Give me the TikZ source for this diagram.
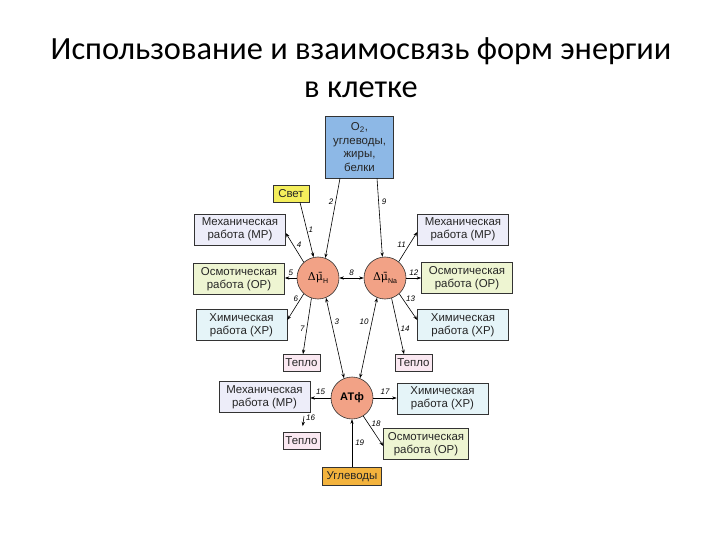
\documentclass[tikz,border=0pt]{standalone}
\usepackage{fontspec}
\setmainfont{Liberation Sans}
\newfontfamily\titlefont{Carlito}
\newfontfamily\greekfont{DejaVu Serif}
\usetikzlibrary{arrows.meta}
\definecolor{mechc}{HTML}{EDEDF9}
\definecolor{osmc}{HTML}{EEF5D2}
\definecolor{chemc}{HTML}{E5F4F8}
\definecolor{heatc}{HTML}{FAE8F1}
\definecolor{circc}{HTML}{F2A286}
\definecolor{oxc}{HTML}{8DB8E6}
\definecolor{lightc}{HTML}{F4EE5C}
\definecolor{carbc}{HTML}{F3B33D}
\definecolor{edgec}{HTML}{333333}
\newcommand{\dmu}[1]{{\greekfont Δμ̄}\raisebox{-3bp}{\fontsize{7}{8}\selectfont #1}}
\tikzset{
  box/.style={draw=edgec, line width=0.6bp, align=center, inner sep=0pt,
    font=\fontsize{11.5}{13.5}\selectfont, text=black!85},
  workbox/.style={box, minimum width=91bp, minimum height=31bp},
  smallbox/.style={box, minimum width=37bp, minimum height=17bp},
  circ/.style={circle, draw=edgec, line width=0.6bp, fill=circc, minimum size=42bp, inner sep=0pt,
    font=\fontsize{11}{12}\selectfont},
  conn/.style={line width=0.6bp, -{Stealth[length=4.5bp,width=3.2bp]}},
  dconn/.style={line width=0.6bp, {Stealth[length=4.5bp,width=3.2bp]}-{Stealth[length=4.5bp,width=3.2bp]}},
  num/.style={font=\fontsize{8}{9}\selectfont\itshape, inner sep=0pt}
}
\begin{document}
\begin{tikzpicture}[x={(1bp,0)}, y={(0,-1bp)}]
\useasboundingbox (0,0) rectangle (720,540);
% title
\node[font=\titlefont\fontsize{32.5}{38}\selectfont, align=center] (title) at (361,68)
  {Использование и взаимосвязь форм энергии\\в клетке};
% top boxes
\node[box, fill=oxc, minimum width=68bp, minimum height=62bp] (ox) at (359.5,147)
  {O\textsubscript{2},\\углеводы,\\жиры,\\белки};
\node[smallbox, fill=lightc, minimum width=36bp] (light) at (291,193.5) {Свет};
% circles
\node[circ] (H) at (318,278) {\dmu{H}};
\node[circ] (Na) at (385,278) {\dmu{Na}};
\node[circ, font=\fontsize{11}{12}\selectfont\bfseries] (A) at (352,398) {АТф};
% left column
\node[workbox, fill=mechc] (mL) at (240,229.5) {Механическая\\работа (МР)};
\node[workbox, fill=osmc] (oL) at (239,279) {Осмотическая\\работа (ОР)};
\node[workbox, fill=chemc] (cL) at (241.5,325) {Химическая\\работа (ХР)};
\node[smallbox, fill=heatc] (tL) at (301.5,363) {Тепло};
% right column
\node[workbox, fill=mechc] (mR) at (463,229.5) {Механическая\\работа (МР)};
\node[workbox, fill=osmc] (oR) at (467,278) {Осмотическая\\работа (ОР)};
\node[workbox, fill=chemc] (cR) at (463,325) {Химическая\\работа (ХР)};
\node[smallbox, fill=heatc] (tR) at (413.5,363) {Тепло};
% bottom
\node[workbox, fill=mechc] (mB) at (264.5,397) {Механическая\\работа (МР)};
\node[workbox, fill=chemc] (cB) at (442.5,398.5) {Химическая\\работа (ХР)};
\node[smallbox, fill=heatc] (tB) at (301.5,441) {Тепло};
\node[workbox, fill=osmc, minimum width=85bp] (oB) at (426,444) {Осмотическая\\работа (ОР)};
\node[box, fill=carbc, minimum width=59bp, minimum height=18bp] (carb) at (352,476.5) {Углеводы};
\coordinate (s16) at (304,416);
% connectors
\draw[conn] (light.south -| 300,0) -- (H.102) node[num, pos=0.5, right=1.5bp] {1};
\draw[conn] (ox.south -| 340,0) -- (H.70) node[num, pos=0.3, left=2bp] {2};
\draw[conn] (ox.south -| 377,0) -- (Na.97) node[num, pos=0.3, right=3bp] {9};
\draw[conn] (H.132) -- (mL.east |- 0,233) node[num, pos=0.45, above right=1bp] {4};
\draw[conn] (Na.50) -- (mR.west |- 0,232) node[num, pos=0.45, above left=1bp] {11};
\draw[conn] (H.west) -- (oL.east |- H) node[num, midway, above=2.5bp] {5};
\draw[dconn] (H.east) -- (Na.west) node[num, midway, above=2.5bp] {8};
\draw[conn] (Na.east) -- (oR.west |- Na) node[num, midway, above=2.5bp] {12};
\draw[conn] (H.228) -- (cL.east |- 0,320) node[num, pos=0.2, left=2bp] {6};
\draw[conn] (H.252) -- (tL.north -| 303,0) node[num, pos=0.55, left=2bp] {7};
\draw[dconn] (H.292) -- (A.112) node[num, pos=0.3, right=3bp] {3};
\draw[dconn] (Na.248) -- (A.68) node[num, pos=0.3, left=3bp] {10};
\draw[conn] (Na.312) -- (cR.west |- 0,320) node[num, pos=0.2, right=3bp] {13};
\draw[conn] (Na.288) -- (tR.north -| 404,0) node[num, pos=0.55, right=2bp] {14};
\draw[conn] (A.west) -- (mB.east |- A) node[num, midway, above=3bp] {15};
\draw[conn] (A.east) -- (cB.west |- A) node[num, midway, above=3bp] {17};
\draw[conn, shorten >=6bp] (s16) -- (tB.north -| 302,0) node[num, pos=0.1, right=2bp] {16};
\draw[conn] (A.302) -- (oB.west |- 0,446) node[num, pos=0.25, right=3bp] {18};
\draw[conn] (carb.north) -- (A.south) node[num, midway, right=3bp] {19};
\end{tikzpicture}
\end{document}
